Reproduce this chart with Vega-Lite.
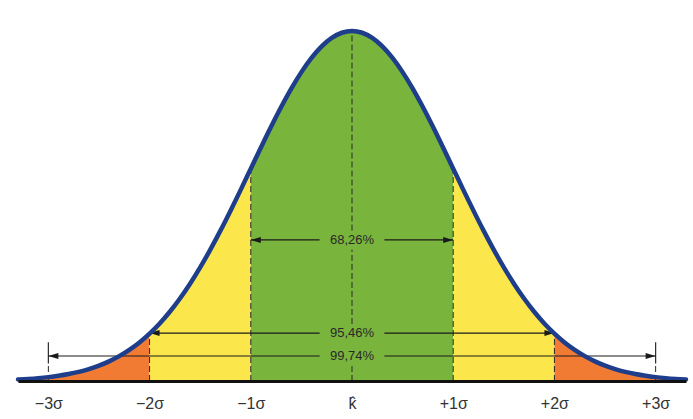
{
  "$schema": "https://vega.github.io/schema/vega-lite/v6.json",
  "width": 668,
  "height": 350,
  "autosize": {"type": "none"},
  "padding": {"left": 18, "top": 31, "right": 7, "bottom": 38},
  "background": "white",
  "config": {"view": {"stroke": null}},
  "datasets": {
    "curve": [
      {"x": -3.3, "y": 0.00432, "seg": "L3"}, {"x": -3.2, "y": 0.00598, "seg": "L3"}, {"x": -3.1, "y": 0.00819, "seg": "L3"}, {"x": -3.0, "y": 0.01111, "seg": "L3"}, {"x": -2.9, "y": 0.01492, "seg": "L3"}, {"x": -2.8, "y": 0.01984, "seg": "L3"}, {"x": -2.7, "y": 0.02612, "seg": "L3"}, {"x": -2.6, "y": 0.03405, "seg": "L3"}, {"x": -2.5, "y": 0.04394, "seg": "L3"}, {"x": -2.4, "y": 0.05613, "seg": "L3"}, {"x": -2.3, "y": 0.071, "seg": "L3"}, {"x": -2.2, "y": 0.08892, "seg": "L3"}, {"x": -2.1, "y": 0.11025, "seg": "L3"}, {"x": -2.0, "y": 0.13534, "seg": "L3"},
      {"x": -2.0, "y": 0.13534, "seg": "L2"}, {"x": -1.9, "y": 0.16447, "seg": "L2"}, {"x": -1.8, "y": 0.1979, "seg": "L2"}, {"x": -1.7, "y": 0.23575, "seg": "L2"}, {"x": -1.6, "y": 0.27804, "seg": "L2"}, {"x": -1.5, "y": 0.32465, "seg": "L2"}, {"x": -1.4, "y": 0.37531, "seg": "L2"}, {"x": -1.3, "y": 0.42956, "seg": "L2"}, {"x": -1.2, "y": 0.48675, "seg": "L2"}, {"x": -1.1, "y": 0.54607, "seg": "L2"}, {"x": -1.0, "y": 0.60653, "seg": "L2"},
      {"x": -1.0, "y": 0.60653, "seg": "C"}, {"x": -0.9, "y": 0.66698, "seg": "C"}, {"x": -0.8, "y": 0.72615, "seg": "C"}, {"x": -0.7, "y": 0.7827, "seg": "C"}, {"x": -0.6, "y": 0.83527, "seg": "C"}, {"x": -0.5, "y": 0.8825, "seg": "C"}, {"x": -0.4, "y": 0.92312, "seg": "C"}, {"x": -0.3, "y": 0.956, "seg": "C"}, {"x": -0.2, "y": 0.9802, "seg": "C"}, {"x": -0.1, "y": 0.99501, "seg": "C"}, {"x": 0.0, "y": 1.0, "seg": "C"}, {"x": 0.1, "y": 0.99501, "seg": "C"}, {"x": 0.2, "y": 0.9802, "seg": "C"}, {"x": 0.3, "y": 0.956, "seg": "C"}, {"x": 0.4, "y": 0.92312, "seg": "C"}, {"x": 0.5, "y": 0.8825, "seg": "C"}, {"x": 0.6, "y": 0.83527, "seg": "C"}, {"x": 0.7, "y": 0.7827, "seg": "C"}, {"x": 0.8, "y": 0.72615, "seg": "C"}, {"x": 0.9, "y": 0.66698, "seg": "C"}, {"x": 1.0, "y": 0.60653, "seg": "C"},
      {"x": 1.0, "y": 0.60653, "seg": "R2"}, {"x": 1.1, "y": 0.54607, "seg": "R2"}, {"x": 1.2, "y": 0.48675, "seg": "R2"}, {"x": 1.3, "y": 0.42956, "seg": "R2"}, {"x": 1.4, "y": 0.37531, "seg": "R2"}, {"x": 1.5, "y": 0.32465, "seg": "R2"}, {"x": 1.6, "y": 0.27804, "seg": "R2"}, {"x": 1.7, "y": 0.23575, "seg": "R2"}, {"x": 1.8, "y": 0.1979, "seg": "R2"}, {"x": 1.9, "y": 0.16447, "seg": "R2"}, {"x": 2.0, "y": 0.13534, "seg": "R2"},
      {"x": 2.0, "y": 0.13534, "seg": "R3"}, {"x": 2.1, "y": 0.11025, "seg": "R3"}, {"x": 2.2, "y": 0.08892, "seg": "R3"}, {"x": 2.3, "y": 0.071, "seg": "R3"}, {"x": 2.4, "y": 0.05613, "seg": "R3"}, {"x": 2.5, "y": 0.04394, "seg": "R3"}, {"x": 2.6, "y": 0.03405, "seg": "R3"}, {"x": 2.7, "y": 0.02612, "seg": "R3"}, {"x": 2.8, "y": 0.01984, "seg": "R3"}, {"x": 2.9, "y": 0.01492, "seg": "R3"}, {"x": 3.0, "y": 0.01111, "seg": "R3"}, {"x": 3.1, "y": 0.00819, "seg": "R3"}, {"x": 3.2, "y": 0.00598, "seg": "R3"}, {"x": 3.3, "y": 0.00432, "seg": "R3"}
    ],
    "dashed": [
      {"x": -3, "y1": 0, "y2": 0.05},
      {"x": 3, "y1": 0, "y2": 0.05},
      {"x": -2, "y1": 0, "y2": 0.1353},
      {"x": 2, "y1": 0, "y2": 0.1353},
      {"x": -1, "y1": 0, "y2": 0.6065},
      {"x": 1, "y1": 0, "y2": 0.6065},
      {"x": 0, "y1": 0, "y2": 0.045},
      {"x": 0, "y1": 0.163, "y2": 0.375},
      {"x": 0, "y1": 0.43, "y2": 1}
    ],
    "ticks": [
      {"x": -3, "y1": 0.05, "y2": 0.111},
      {"x": 3, "y1": 0.05, "y2": 0.111}
    ],
    "hlines": [
      {"x1": -1, "x2": -0.32, "y": 0.403},
      {"x1": 0.32, "x2": 1, "y": 0.403},
      {"x1": -2, "x2": -0.32, "y": 0.137},
      {"x1": 0.32, "x2": 2, "y": 0.137},
      {"x1": -3, "x2": -0.32, "y": 0.0714},
      {"x1": 0.32, "x2": 3, "y": 0.0714}
    ],
    "arrows": [
      {"x": -1, "y": 0.403, "dir": "left"},
      {"x": 1, "y": 0.403, "dir": "right"},
      {"x": -2, "y": 0.137, "dir": "left"},
      {"x": 2, "y": 0.137, "dir": "right"},
      {"x": -3, "y": 0.0714, "dir": "left"},
      {"x": 3, "y": 0.0714, "dir": "right"}
    ],
    "labels": [
      {"x": 0, "y": 0.403, "label": "68,26%"},
      {"x": 0, "y": 0.137, "label": "95,46%"},
      {"x": 0, "y": 0.0714, "label": "99,74%"}
    ]
  },
  "encoding": {
    "x": {
      "type": "quantitative",
      "scale": {"domain": [-3.3, 3.3], "nice": false, "zero": false},
      "axis": {
        "values": [-3, -2, -1, 0, 1, 2, 3],
        "labelExpr": "datum.value == 0 ? 'k\u0302' : (datum.value > 0 ? '+' : '\u2212') + abs(datum.value) + '\u03c3'",
        "title": null,
        "grid": false,
        "ticks": false,
        "domain": true,
        "domainColor": "#111111",
        "domainWidth": 3,
        "labelFont": "Liberation Sans",
        "labelFontSize": 16,
        "labelColor": "#333333",
        "labelPadding": 14,
        "zindex": 1
      }
    }
  },
  "layer": [
    {
      "data": {"name": "curve"},
      "mark": {"type": "area", "interpolate": "monotone"},
      "encoding": {
        "x": {"field": "x", "type": "quantitative"},
        "y": {"field": "y", "type": "quantitative", "stack": null, "scale": {"domain": [0, 1], "nice": false}, "axis": null},
        "color": {
          "field": "seg", "type": "nominal", "legend": null,
          "scale": {"domain": ["L3", "L2", "C", "R2", "R3"], "range": ["#f27b34", "#fbe64b", "#79b43c", "#fbe64b", "#f27b34"]}
        }
      }
    },
    {
      "data": {"name": "dashed"},
      "mark": {"type": "rule", "color": "#2a2a2a", "strokeWidth": 1, "strokeDash": [6, 3]},
      "encoding": {
        "x": {"field": "x", "type": "quantitative"},
        "y": {"field": "y1", "type": "quantitative"},
        "y2": {"field": "y2"}
      }
    },
    {
      "data": {"name": "ticks"},
      "mark": {"type": "rule", "color": "#2a2a2a", "strokeWidth": 1.2},
      "encoding": {
        "x": {"field": "x", "type": "quantitative"},
        "y": {"field": "y1", "type": "quantitative"},
        "y2": {"field": "y2"}
      }
    },
    {
      "data": {"name": "hlines"},
      "mark": {"type": "rule", "color": "#1a1a1a", "strokeWidth": 1.2},
      "encoding": {
        "x": {"field": "x1", "type": "quantitative"},
        "x2": {"field": "x2"},
        "y": {"field": "y", "type": "quantitative"}
      }
    },
    {
      "data": {"name": "arrows"},
      "mark": {"type": "point", "filled": true, "size": 100, "color": "#1a1a1a", "opacity": 1},
      "encoding": {
        "x": {"field": "x", "type": "quantitative"},
        "y": {"field": "y", "type": "quantitative"},
        "shape": {
          "field": "dir", "type": "nominal", "legend": null,
          "scale": {"domain": ["left", "right"], "range": ["M0,0L2,-0.6L2,0.6Z", "M0,0L-2,-0.6L-2,0.6Z"]}
        }
      }
    },
    {
      "data": {"name": "labels"},
      "mark": {"type": "text", "font": "Liberation Sans", "fontSize": 13, "color": "#2a2a2a", "align": "center", "baseline": "middle"},
      "encoding": {
        "x": {"field": "x", "type": "quantitative"},
        "y": {"field": "y", "type": "quantitative"},
        "text": {"field": "label"}
      }
    },
    {
      "data": {"name": "curve"},
      "mark": {"type": "line", "interpolate": "monotone", "color": "#1e3e8c", "strokeWidth": 4.5, "strokeCap": "round"},
      "encoding": {
        "x": {"field": "x", "type": "quantitative"},
        "y": {"field": "y", "type": "quantitative"}
      }
    }
  ]
}
